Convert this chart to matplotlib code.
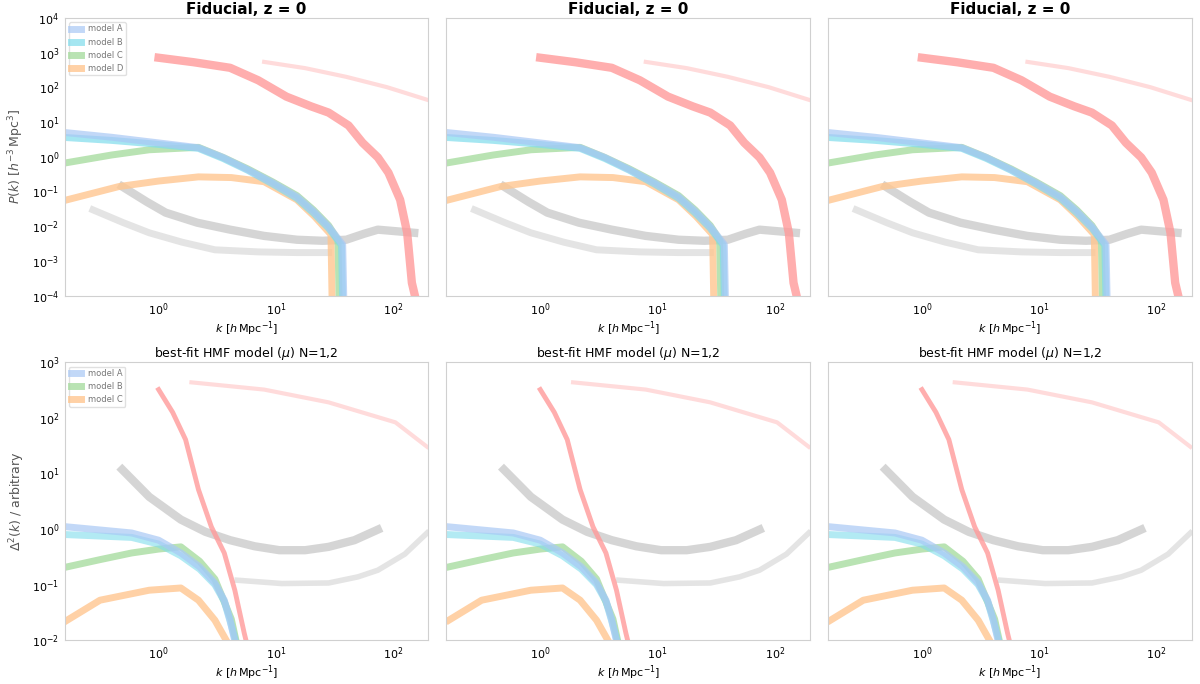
import numpy as np
import matplotlib

matplotlib.use("Agg")
import matplotlib.pyplot as plt

# values, stored as log10(x), log10(y)
# ---- top row ----
top_red_x = [0.0, 0.30, 0.61, 0.85, 1.09, 1.30, 1.45, 1.62, 1.74, 1.87, 1.96, 2.06, 2.12, 2.16, 2.20]
top_red_y = [2.85, 2.72, 2.56, 2.20, 1.73, 1.45, 1.27, 0.90, 0.40, -0.02, -0.46, -1.24, -2.19, -3.63, -4.2]
top_red_faint_x = [0.90, 1.25, 1.60, 1.95, 2.29]
top_red_faint_y = [2.73, 2.55, 2.30, 2.00, 1.64]
top_blue_x = [-0.78, -0.40, -0.08, 0.34, 0.55, 0.76, 0.97, 1.18, 1.32, 1.45, 1.57, 1.58]
top_blue_y = [0.69, 0.56, 0.43, 0.26, -0.02, -0.37, -0.74, -1.15, -1.56, -2.01, -2.53, -4.2]
top_cyan_x = [-0.78, -0.40, -0.08, 0.34, 0.55, 0.76, 0.97, 1.18, 1.32, 1.45, 1.56, 1.57]
top_cyan_y = [0.55, 0.47, 0.38, 0.24, -0.05, -0.39, -0.78, -1.20, -1.62, -2.06, -2.55, -4.2]
top_green_x = [-0.78, -0.40, -0.08, 0.34, 0.55, 0.76, 0.97, 1.18, 1.32, 1.45, 1.53, 1.54]
top_green_y = [-0.17, 0.05, 0.20, 0.27, -0.02, -0.35, -0.72, -1.12, -1.53, -1.98, -2.40, -4.2]
top_orange_x = [-0.78, -0.34, 0.0, 0.34, 0.62, 0.90, 1.18, 1.33, 1.47, 1.48]
top_orange_y = [-1.24, -0.86, -0.70, -0.58, -0.60, -0.72, -1.24, -1.72, -2.24, -4.2]
top_gray_x = [-0.31, -0.10, 0.06, 0.33, 0.61, 0.90, 1.18, 1.40, 1.60, 1.75, 1.87, 2.18]
top_gray_y = [-0.86, -1.30, -1.61, -1.90, -2.10, -2.28, -2.39, -2.42, -2.39, -2.22, -2.10, -2.19]
top_gray_light_x = [-0.56, -0.30, -0.08, 0.20, 0.48, 0.85, 1.18, 1.45]
top_gray_light_y = [-1.53, -1.90, -2.19, -2.46, -2.68, -2.74, -2.76, -2.76]

# ---- bottom row ----
bot_red_x = [0.0, 0.12, 0.23, 0.34, 0.45, 0.56, 0.65, 0.73, 0.78]
bot_red_y = [2.51, 2.10, 1.61, 0.71, 0.04, -0.43, -1.10, -1.87, -2.3]
bot_red_faint_x = [0.28, 0.90, 1.45, 2.02, 2.29]
bot_red_faint_y = [2.64, 2.51, 2.28, 1.92, 1.48]
bot_blue_x = [-0.78, -0.23, 0.0, 0.19, 0.35, 0.48, 0.56, 0.61, 0.67]
bot_blue_y = [0.04, -0.07, -0.20, -0.43, -0.68, -0.97, -1.28, -1.64, -2.2]
bot_cyan_x = [-0.78, -0.23, 0.0, 0.19, 0.35, 0.48, 0.56, 0.61, 0.68]
bot_cyan_y = [-0.10, -0.15, -0.27, -0.48, -0.72, -1.00, -1.30, -1.66, -2.2]
bot_green_x = [-0.78, -0.50, -0.23, 0.0, 0.19, 0.35, 0.48, 0.62, 0.68]
bot_green_y = [-0.68, -0.55, -0.43, -0.36, -0.32, -0.58, -0.90, -1.62, -2.2]
bot_orange_x = [-0.78, -0.50, -0.08, 0.19, 0.34, 0.48, 0.63]
bot_orange_y = [-1.64, -1.28, -1.10, -1.06, -1.28, -1.64, -2.2]
bot_gray_x = [-0.31, -0.08, 0.19, 0.40, 0.61, 0.82, 1.03, 1.25, 1.45, 1.67, 1.87]
bot_gray_y = [1.07, 0.58, 0.17, -0.05, -0.20, -0.31, -0.38, -0.38, -0.32, -0.20, -0.01]
bot_gray_light_x = [0.67, 1.05, 1.45, 1.70, 1.87, 2.10, 2.29]
bot_gray_light_y = [-0.92, -0.98, -0.97, -0.86, -0.74, -0.45, -0.07]

legend_top = ["model A", "model B", "model C", "model D"]
legend_bot = ["model A", "model B", "model C"]
top_title = "Fiducial, z = 0"
bot_title = "best-fit HMF model ($\\mu$) N=1,2"


def lg(v):
    return 10.0 ** np.asarray(v)


fig, axes = plt.subplots(2, 3, figsize=(12, 6.84))
fig.subplots_adjust(left=0.054, right=0.993, top=0.974, bottom=0.064,
                    wspace=0.05, hspace=0.24)

c_red = "#ff9a9a"
c_blue = "#a9c8f5"
c_cyan = "#7fdcec"
c_green = "#a8dca0"
c_orange = "#ffc690"
c_gray = "#c4c4c4"

for col in range(3):
    ax = axes[0, col]
    ax.plot(lg(top_red_faint_x), lg(top_red_faint_y), color=c_red, lw=3, alpha=0.35)
    ax.plot(lg(top_gray_light_x), lg(top_gray_light_y), color=c_gray, lw=5, alpha=0.45)
    ax.plot(lg(top_gray_x), lg(top_gray_y), color=c_gray, lw=6, alpha=0.7)
    h4, = ax.plot(lg(top_orange_x), lg(top_orange_y), color=c_orange, lw=5, alpha=0.8)
    h3, = ax.plot(lg(top_green_x), lg(top_green_y), color=c_green, lw=5, alpha=0.8)
    h2, = ax.plot(lg(top_cyan_x), lg(top_cyan_y), color=c_cyan, lw=5, alpha=0.7)
    h1, = ax.plot(lg(top_blue_x), lg(top_blue_y), color=c_blue, lw=5, alpha=0.7)
    ax.plot(lg(top_red_x), lg(top_red_y), color=c_red, lw=6, alpha=0.8)
    ax.set_ylim(1e-4, 1e4)
    ax.set_yticks([10.0 ** k for k in range(-4, 5)])
    ax.set_title(top_title, fontsize=11, fontweight="bold", pad=3)
    if col == 0:
        ax.legend([h1, h2, h3, h4], legend_top, loc="upper left", fontsize=6,
                  framealpha=0.6, handlelength=1.2, labelcolor="#777777", borderpad=0.3)

    ax = axes[1, col]
    ax.plot(lg(bot_red_faint_x), lg(bot_red_faint_y), color=c_red, lw=3, alpha=0.35)
    ax.plot(lg(bot_gray_light_x), lg(bot_gray_light_y), color=c_gray, lw=4, alpha=0.45)
    ax.plot(lg(bot_gray_x), lg(bot_gray_y), color=c_gray, lw=6, alpha=0.7)
    g3, = ax.plot(lg(bot_orange_x), lg(bot_orange_y), color=c_orange, lw=5, alpha=0.8)
    g2, = ax.plot(lg(bot_green_x), lg(bot_green_y), color=c_green, lw=5, alpha=0.8)
    ax.plot(lg(bot_cyan_x), lg(bot_cyan_y), color=c_cyan, lw=5, alpha=0.6)
    g1, = ax.plot(lg(bot_blue_x), lg(bot_blue_y), color=c_blue, lw=5, alpha=0.7)
    ax.plot(lg(bot_red_x), lg(bot_red_y), color=c_red, lw=3.5, alpha=0.8)
    ax.set_ylim(1e-2, 1e3)
    ax.set_yticks([10.0 ** k for k in range(-2, 4)])
    ax.set_title(bot_title, fontsize=9, pad=3)
    if col == 0:
        ax.legend([g1, g2, g3], legend_bot, loc="upper left", fontsize=6,
                  framealpha=0.6, handlelength=1.2, labelcolor="#777777", borderpad=0.3)

for ax in axes.flat:
    ax.set_xscale("log")
    ax.set_yscale("log")
    ax.set_xlim(10 ** -0.8, 10 ** 2.3)
    ax.set_xticks([1, 10, 100])
    ax.minorticks_off()
    for s in ax.spines.values():
        s.set_color("#d0d0d0")
    ax.tick_params(length=0, labelsize=8, pad=4)
    ax.set_xlabel("$k\\ [h\\,{\\rm Mpc}^{-1}]$", fontsize=8, labelpad=1)

for ax in axes[:, 1:].flat:
    ax.tick_params(labelleft=False)

axes[0, 0].set_ylabel("$P(k)\\ [h^{-3}\\,{\\rm Mpc}^{3}]$", fontsize=9, color="#555555")
axes[1, 0].set_ylabel("$\\Delta^2(k)$ / arbitrary", fontsize=9, color="#555555")

fig.savefig("out.png", dpi=100)
